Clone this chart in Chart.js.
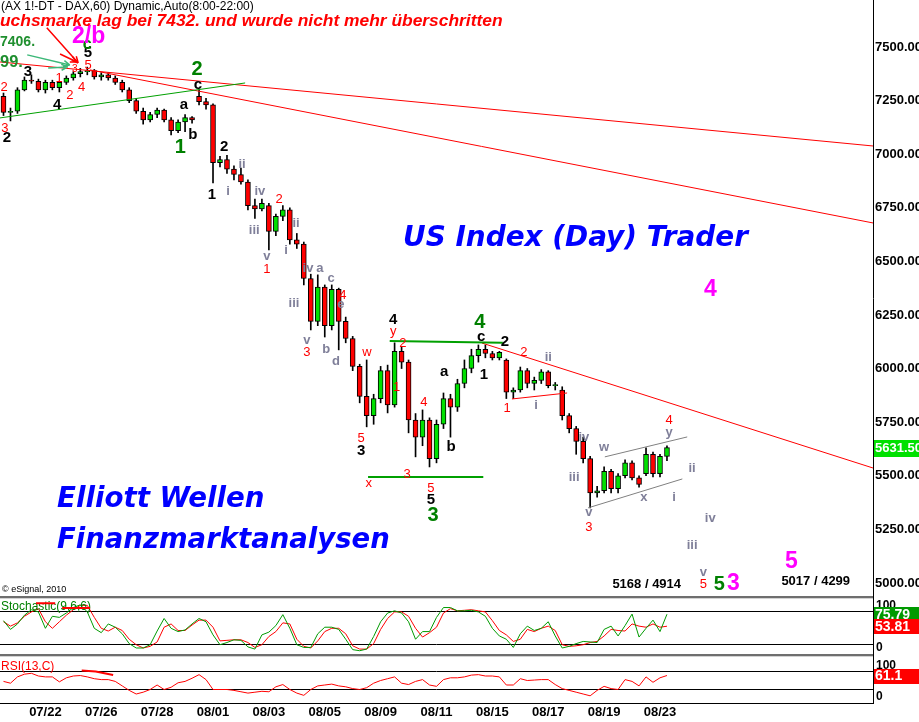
<!DOCTYPE html>
<html>
<head>
<meta charset="utf-8">
<title>DAX 60 - Elliott</title>
<script src="https://cdn.jsdelivr.net/npm/chart.js@4.4.1/dist/chart.umd.min.js"></script>
<style>
  body { margin: 0; background: #fff; }
  #wrap { position: relative; width: 919px; height: 722px; overflow: hidden; background: #fff; }
  #wrap canvas { position: absolute; left: 0; }
  .sep { position: absolute; left: 0; width: 873px; }
  .vline { position: absolute; left: 873px; width: 1px; background: #000; }
</style>
</head>
<body>
<div id="wrap">
  <canvas id="priceChart" width="919" height="596" style="top:0"></canvas>
  <div class="sep" style="top:596px;height:2px;background:#6e6e6e"></div>
  <div class="sep" style="top:598px;height:1px;background:#d2d2d2"></div>
  <div class="vline" style="top:596px;height:4px"></div>
  <canvas id="stochChart" width="919" height="54" style="top:600px"></canvas>
  <div class="sep" style="top:654px;height:2px;background:#6e6e6e"></div>
  <div class="sep" style="top:656px;height:1px;background:#d2d2d2"></div>
  <div class="vline" style="top:654px;height:4px"></div>
  <canvas id="rsiChart" width="919" height="64" style="top:658px"></canvas>
</div>
<script>
// ---- data ----
const dayTicks = ['07/22','07/26','07/28','08/01','08/03','08/05','08/09','08/11','08/15','08/17','08/19','08/23'];
const priceTicks = [5000,5250,5500,5750,6000,6250,6500,6750,7000,7250,7500];

const opens = [7270,7195,7200,7300,7345,7340,7300,7335,7310,7335,
  7355,7375,7385,7390,7360,7370,7355,7335,7300,7250,
  7200,7160,7185,7205,7160,7110,7150,7170,7270,7245,
  7230,6960,6975,6930,6905,6870,6760,6745,6760,6640,
  6710,6740,6600,6580,6420,6220,6380,6200,6370,6220,
  6140,6010,5870,5780,5860,5990,5830,6080,6030,5760,
  5680,5760,5580,5740,5860,5820,5930,6000,6060,6090,
  6070,6050,6040,5890,5900,5990,5930,5945,5985,5920,
  5900,5780,5720,5660,5580,5420,5430,5520,5440,5500,
  5560,5490,5510,5600,5510,5590];
const highs = [7285,7215,7310,7360,7370,7350,7345,7345,7340,7365,
  7385,7400,7406,7395,7380,7380,7365,7345,7310,7260,
  7215,7195,7215,7210,7170,7160,7185,7175,7300,7260,
  7235,6990,6995,6945,6935,6880,6790,6790,6770,6720,
  6760,6750,6630,6590,6440,6437,6390,6390,6375,6240,
  6150,6020,6040,5880,6010,6016,6120,6100,6040,5790,
  5807,5770,5760,5886,5880,5950,6040,6090,6110,6110,
  6080,6080,6045,5910,6007,6000,5960,5995,5990,5935,
  5915,5790,5730,5680,5590,5450,5541,5530,5510,5574,
  5570,5500,5630,5610,5600,5640];
const lows = [7180,7155,7190,7295,7330,7290,7285,7300,7290,7325,
  7345,7360,7370,7350,7345,7345,7325,7290,7240,7190,
  7140,7150,7170,7150,7090,7100,7105,7145,7230,7210,
  6866,6940,6910,6880,6860,6740,6700,6735,6553,6620,
  6690,6580,6560,6390,6180,6200,6147,6180,6087,6120,
  5990,5840,5728,5740,5840,5793,5820,6000,5700,5588,
  5640,5541,5560,5720,5680,5800,5910,5980,6030,6050,
  6040,6040,5860,5860,5890,5910,5900,5930,5910,5900,
  5760,5700,5600,5560,5350,5400,5420,5420,5420,5490,
  5480,5447,5500,5494,5495,5570];
const closes = [7195,7200,7300,7345,7340,7300,7335,7310,7335,7355,
  7375,7385,7390,7360,7370,7355,7335,7300,7250,7200,
  7160,7185,7205,7160,7110,7150,7170,7160,7245,7230,
  6960,6975,6930,6905,6870,6760,6745,6770,6640,6710,
  6740,6600,6580,6420,6220,6380,6200,6370,6220,6140,
  6010,5870,5780,5860,5990,5830,6080,6030,5760,5680,
  5760,5580,5740,5860,5820,5930,6000,6060,6090,6070,
  6050,6075,5890,5900,5990,5930,5945,5985,5920,5925,
  5780,5720,5660,5580,5420,5430,5520,5440,5500,5560,
  5490,5460,5600,5510,5590,5631.5];

const stochK = [64,48,58,74,84,80,50,72,70,78,
  88,93,80,50,42,58,52,40,22,14,
  14,20,45,68,50,44,47,58,68,62,
  38,20,24,29,28,16,12,38,43,55,
  75,50,20,15,15,40,52,52,48,30,
  11,9,12,35,62,78,82,78,62,30,
  44,44,70,88,88,82,82,83,80,72,
  50,36,30,15,40,54,46,50,62,36,
  14,17,22,26,25,24,48,54,36,55,
  76,34,50,65,44,75.79];
const stochD = [62,54,60,72,80,86,62,50,62,74,
  84,92,92,70,50,45,52,46,30,20,
  14,17,25,52,58,46,46,56,65,65,
  52,27,28,29,29,24,15,20,35,44,
  60,58,30,17,14,27,44,50,50,40,
  18,12,12,22,48,68,80,80,72,50,
  34,42,52,78,86,82,83,84,82,80,
  64,46,38,26,30,48,44,50,54,46,
  20,17,18,20,24,26,36,48,46,45,
  58,54,52,58,52,53.81];
const rsi = [48,44,58,64,66,60,58,58,47,56,
  60,61,58,54,52,52,48,38,28,20,
  24,30,40,30,35,45,48,55,63,52,
  30,30,30,28,25,22,24,26,25,36,
  41,30,22,17,30,38,40,42,38,36,
  32,30,34,44,50,54,58,44,41,48,
  52,40,37,52,56,56,58,62,63,60,
  60,58,40,40,54,50,51,52,52,41,
  32,28,24,20,16,28,37,32,30,52,
  48,38,58,46,56,61.1];
const stochLevels = [20, 80];
const rsiLevels = [30, 70];

// ---- drawn-in annotations, in (bar, price) ----
// trend lines: bar1, price1, bar2, price2, colour, width
const trendLines = [
  [-0.5, 7430, 124.5, 7038, '#ff0000', 1],
  [12.4, 7393, 124.5, 6679, '#ff0000', 1],
  [68.5, 6119, 124.5, 5536, '#ff0000', 1],
  [72.8, 5858, 80.7, 5886, '#ff0000', 1],
  [-0.5, 7169, 34.6, 7332, '#00a000', 1],
  [55.3, 6129, 71.5, 6120, '#00a000', 2],
  [52.2, 5494, 68.7, 5494, '#00a000', 2],
  [86.1, 5588, 97.9, 5681, '#808080', 1],
  [83.7, 5350, 97.2, 5485, '#808080', 1]
];
const arrows = [
  [6.2, 7589, 10.7, 7425, '#ff0000'],
  [8.1, 7467, 10.5, 7430, '#ff0000'],
  [3.4, 7463, 9.5, 7416, '#3cb878'],
  [6.4, 7402, 9.2, 7407, '#3cb878']
];
// wave labels: text, bar, price, style
const waveLabels = [
  ['2',0.1,7309,'r'], ['3',0.2,7122,'r'], ['2',0.5,7076,'k'], ['3',3.5,7383,'k'],
  ['4',7.7,7229,'k'], ['1',7.95,7355,'r'], ['2',9.5,7276,'r'], ['3',10.2,7397,'rs'],
  ['4',11.2,7313,'r'], ['5',12.1,7416,'r'], ['5',12.1,7472,'k'], ['c',12.0,7509,'gc'],
  ['2/b',12.2,7550,'m'],
  ['2',27.7,7393,'g'], ['c',27.85,7323,'k'], ['a',25.85,7229,'k'], ['b',27.1,7090,'k'],
  ['1',25.3,7029,'g'], ['2',31.6,7034,'k'], ['1',29.85,6810,'k'],
  ['ii',34.15,6954,'s'], ['i',32.15,6828,'s'], ['iv',36.7,6824,'s'], ['iii',35.9,6646,'s'],
  ['2',39.45,6791,'r'], ['v',37.7,6521,'s'], ['1',37.7,6460,'r'],
  ['ii',41.9,6679,'s'], ['i',40.45,6553,'s'], ['iv',43.6,6469,'s'], ['iii',41.6,6306,'s'],
  ['v',43.45,6133,'s'], ['3',43.45,6077,'r'],
  ['a',45.3,6469,'s'], ['c',46.9,6418,'s'], ['4',48.6,6339,'r'], ['e',48.3,6297,'s'],
  ['b',46.2,6087,'s'], ['d',47.6,6031,'s'],
  ['w',52.05,6077,'r'], ['4',55.8,6227,'k'], ['y',55.8,6171,'r'], ['2',57.2,6115,'r'],
  ['1',56.3,5910,'r'], ['5',51.2,5676,'r'], ['3',51.2,5616,'k'], ['4',60.2,5844,'r'],
  ['3',57.8,5508,'r'], ['x',52.3,5462,'r'], ['5',61.2,5443,'r'], ['5',61.2,5387,'k'],
  ['3',61.5,5313,'g'], ['a',63.1,5984,'k'], ['b',64.1,5634,'k'],
  ['4',68.2,6217,'g'], ['c',68.4,6147,'k'], ['1',68.8,5970,'k'], ['2',71.8,6124,'k'],
  ['2',74.5,6077,'r'], ['ii',78,6054,'s'], ['1',72.1,5812,'r'], ['i',76.25,5830,'s'],
  ['iv',83.1,5681,'s'], ['iii',81.7,5494,'s'], ['w',86,5630,'s'],
  ['4',95.3,5756,'r'], ['y',95.3,5704,'s'], ['ii',98.6,5536,'s'], ['i',96,5401,'s'],
  ['x',91.7,5397,'s'], ['v',83.8,5331,'s'], ['3',83.8,5261,'r'],
  ['iv',101.2,5299,'s'], ['iii',98.6,5177,'s'], ['v',100.2,5051,'s'], ['5',100.2,4995,'r'],
  ['5',102.5,4995,'g'], ['3',104.5,4995,'m'], ['5',112.8,5098,'m'], ['4',101.2,6367,'m'],
  ['5168 / 4914',92.1,4991,'n'], ['5017 / 4299',116.3,5005,'n']
];

const FONT = "Arial, 'Liberation Sans', sans-serif";
const WIDE = "'DejaVu Sans', Verdana, sans-serif";
const labelStyles = {
  r:  ['#ff0000', 'normal 13px ' + FONT],
  rs: ['#ff0000', 'normal 10px ' + FONT],
  k:  ['#000000', 'bold 15px ' + FONT],
  g:  ['#008000', 'bold 20px ' + FONT],
  gc: ['#008000', 'bold 16px ' + FONT],
  s:  ['#7f7f99', 'bold 13px ' + FONT],
  m:  ['#ff00ff', 'bold 23px ' + FONT],
  n:  ['#000000', 'bold 13px ' + FONT]
};

// category slots: 4 bars per session day, the chart runs on past the last bar
const slotCount = 125, firstTickSlot = 6, slotsPerTick = 8;
const categories = Array.from({length: slotCount}, (_, i) => {
  const k = (i - firstTickSlot) / slotsPerTick;
  return Number.isInteger(k) && k >= 0 && k < dayTicks.length ? dayTicks[k] : '';
});

const bodies = opens.map((o, i) => [Math.min(o, closes[i]), Math.max(o, closes[i])]);
const wicks = lows.map((l, i) => [l, highs[i]]);
const bodyColors = opens.map((o, i) => closes[i] >= o ? '#00e000' : '#ff0000');

function fitText(ctx, text, x, y, width, prefix, family) {
  ctx.font = prefix + ' 20px ' + family;
  const size = 20 * width / ctx.measureText(text).width;
  ctx.font = prefix + ' ' + size.toFixed(1) + 'px ' + family;
  ctx.fillText(text, x, y);
}

function xScale(show) {
  return {
    type: 'category', offset: true, display: show,
    grid: {display: false, drawTicks: false},
    border: {display: show, color: '#000', width: 1},
    ticks: {autoSkip: false, maxRotation: 0, minRotation: 0, padding: 2, color: '#000',
            font: {family: FONT, size: 13, weight: 'bold'}},
    afterFit: s => { if (show) s.height = 19; s.paddingLeft = 0; s.paddingRight = 0; }
  };
}

function levelScale(min, max, levels) {
  return {
    position: 'right', min: min, max: max,
    grid: {display: true, color: '#000', lineWidth: 1, drawTicks: false},
    border: {display: true, color: '#000', width: 1},
    afterBuildTicks: s => { s.ticks = levels.map(v => ({value: v})); },
    ticks: {display: false},
    afterFit: s => { s.width = 46; s.paddingTop = 0; s.paddingBottom = 0; }
  };
}

function valueBox(ctx, area, scale, value, txt, bg) {
  const y = scale.getPixelForValue(value);
  ctx.fillStyle = bg;
  ctx.fillRect(area.right + 1, Math.round(y) - 7, 46, 15);
  ctx.fillStyle = '#fff';
  ctx.font = 'bold 14px ' + FONT;
  ctx.textAlign = 'left';
  ctx.textBaseline = 'middle';
  ctx.fillText(txt, area.right + 2, y + 1);
}

const priceOverlay = {
  id: 'priceOverlay',
  afterDraw(chart) {
    const {ctx, chartArea: a, scales: {x, y}} = chart;
    const px = i => x.getPixelForValue(i);
    const py = p => y.getPixelForValue(p);
    ctx.save();
    ctx.beginPath();
    ctx.rect(a.left, a.top, a.right - a.left, a.bottom - a.top);
    ctx.clip();

    trendLines.forEach(([i1, p1, i2, p2, c, w]) => {
      ctx.strokeStyle = c; ctx.lineWidth = w;
      ctx.beginPath(); ctx.moveTo(px(i1), py(p1)); ctx.lineTo(px(i2), py(p2)); ctx.stroke();
    });
    arrows.forEach(([i1, p1, i2, p2, c]) => {
      const x1 = px(i1), y1 = py(p1), x2 = px(i2), y2 = py(p2);
      const ang = Math.atan2(y2 - y1, x2 - x1);
      ctx.strokeStyle = c; ctx.lineWidth = 1.5;
      ctx.beginPath(); ctx.moveTo(x1, y1); ctx.lineTo(x2, y2);
      ctx.moveTo(x2, y2); ctx.lineTo(x2 - 7 * Math.cos(ang - 0.45), y2 - 7 * Math.sin(ang - 0.45));
      ctx.moveTo(x2, y2); ctx.lineTo(x2 - 7 * Math.cos(ang + 0.45), y2 - 7 * Math.sin(ang + 0.45));
      ctx.stroke();
    });

    ctx.textAlign = 'center'; ctx.textBaseline = 'middle';
    waveLabels.forEach(([t, i, p, st]) => {
      const [c, f] = labelStyles[st];
      ctx.fillStyle = c; ctx.font = f;
      ctx.fillText(t, px(i), py(p));
    });

    // header and captions
    ctx.textAlign = 'left';
    ctx.fillStyle = '#000';
    fitText(ctx, '(AX 1!-DT - DAX,60) Dynamic,Auto(8:00-22:00)', 1, 7, 252, 'normal', FONT);
    ctx.fillStyle = '#ff0000';
    fitText(ctx, 'uchsmarke lag bei 7432. und wurde nicht mehr überschritten', 0, 21, 503, 'italic bold', FONT);
    ctx.fillStyle = '#1f8f2f';
    fitText(ctx, '7406.', 0, 42, 35, 'bold', FONT);
    fitText(ctx, '99.', 0, 62, 23, 'bold', FONT);
    ctx.fillStyle = '#0000ff';
    fitText(ctx, 'US Index (Day) Trader', 403, 239, 345, 'italic bold', WIDE);
    fitText(ctx, 'Elliott Wellen', 57, 500, 208, 'italic bold', WIDE);
    fitText(ctx, 'Finanzmarktanalysen', 57, 541, 333, 'italic bold', WIDE);
    ctx.fillStyle = '#000';
    ctx.font = '9px ' + FONT;
    ctx.fillText('\u00a9 eSignal, 2010', 2, 590);
    ctx.restore();

    // last price flag on the axis
    ctx.save();
    const yl = py(closes[closes.length - 1]);
    ctx.fillStyle = '#00e000';
    ctx.fillRect(a.right + 1, Math.round(yl) - 8, 46, 17);
    ctx.fillStyle = '#fff';
    ctx.font = 'bold 13px ' + FONT;
    ctx.textBaseline = 'middle';
    ctx.fillText(closes[closes.length - 1].toFixed(2), a.right + 2, yl + 1);
    ctx.restore();
  }
};

const stochOverlay = {
  id: 'stochOverlay',
  afterDraw(chart) {
    const {ctx, chartArea: a, scales: {x, y}} = chart;
    ctx.save();
    ctx.fillStyle = '#008000';
    ctx.font = '12px ' + FONT;
    ctx.textAlign = 'left'; ctx.textBaseline = 'middle';
    ctx.fillText('Stochastic(9,6,6)', 1, 7);
    ctx.strokeStyle = '#ff0000'; ctx.lineWidth = 2;
    ctx.beginPath();
    ctx.moveTo(x.getPixelForValue(4.65), y.getPixelForValue(96)); ctx.lineTo(x.getPixelForValue(7.4), y.getPixelForValue(96));
    ctx.moveTo(x.getPixelForValue(8.4), y.getPixelForValue(87)); ctx.lineTo(x.getPixelForValue(12.4), y.getPixelForValue(87));
    ctx.stroke();
    ctx.fillStyle = '#000';
    ctx.font = 'bold 12px ' + FONT;
    ctx.textBaseline = 'top'; ctx.fillText('100', a.right + 3, a.top);
    ctx.textBaseline = 'bottom'; ctx.fillText('0', a.right + 3, a.bottom);
    const n = stochK.length - 1;
    valueBox(ctx, a, y, stochK[n], stochK[n].toFixed(2), '#009a00');
    valueBox(ctx, a, y, stochD[n], stochD[n].toFixed(2), '#ff0000');
    ctx.restore();
  }
};

const rsiOverlay = {
  id: 'rsiOverlay',
  afterDraw(chart) {
    const {ctx, chartArea: a, scales: {x, y}} = chart;
    ctx.save();
    ctx.fillStyle = '#ff0000';
    ctx.font = '12px ' + FONT;
    ctx.textAlign = 'left'; ctx.textBaseline = 'middle';
    ctx.fillText('RSI(13,C)', 1, 9);
    ctx.strokeStyle = '#ff0000'; ctx.lineWidth = 2;
    ctx.beginPath();
    ctx.moveTo(x.getPixelForValue(11.2), y.getPixelForValue(72));
    ctx.lineTo(x.getPixelForValue(13.2), y.getPixelForValue(70));
    ctx.lineTo(x.getPixelForValue(15.7), y.getPixelForValue(62));
    ctx.stroke();
    ctx.fillStyle = '#000';
    ctx.font = 'bold 12px ' + FONT;
    ctx.textBaseline = 'top'; ctx.fillText('100', a.right + 3, a.top + 2);
    ctx.textBaseline = 'bottom'; ctx.fillText('0', a.right + 3, a.bottom);
    const n = rsi.length - 1;
    valueBox(ctx, a, y, rsi[n], rsi[n].toFixed(1), '#ff0000');
    ctx.restore();
  }
};

const common = {
  responsive: false, animation: false, devicePixelRatio: 1, events: [],
  layout: {padding: 0, autoPadding: false},
  plugins: {legend: {display: false}, tooltip: {enabled: false}}
};

new Chart(document.getElementById('priceChart'), {
  type: 'bar',
  data: {
    labels: categories,
    datasets: [
      {data: bodies, backgroundColor: bodyColors, borderColor: '#000', borderWidth: 1,
       borderSkipped: false, barThickness: 5, grouped: false},
      {data: wicks, backgroundColor: '#000', borderWidth: 0, barThickness: 1, grouped: false}
    ]
  },
  options: Object.assign({}, common, {
    scales: {
      x: xScale(false),
      y: {
        position: 'right', min: 4939, max: 7719,
        grid: {display: false, drawTicks: false},
        border: {display: true, color: '#000', width: 1},
        afterBuildTicks: s => { s.ticks = priceTicks.map(v => ({value: v})); },
        afterFit: s => { s.width = 46; s.paddingTop = 0; s.paddingBottom = 0; },
        ticks: {color: '#000', padding: 2, font: {family: FONT, size: 13, weight: 'bold'},
                callback: v => Number(v).toFixed(2)}
      }
    }
  }),
  plugins: [priceOverlay]
});

new Chart(document.getElementById('stochChart'), {
  type: 'line',
  data: {
    labels: categories,
    datasets: [
      {data: stochK, borderColor: '#009a00', borderWidth: 1, pointRadius: 0, pointHoverRadius: 0, tension: 0},
      {data: stochD, borderColor: '#ff0000', borderWidth: 1, pointRadius: 0, pointHoverRadius: 0, tension: 0}
    ]
  },
  options: Object.assign({}, common, {
    scales: {x: xScale(false), y: levelScale(3, 101.8, stochLevels)}
  }),
  plugins: [stochOverlay]
});

new Chart(document.getElementById('rsiChart'), {
  type: 'line',
  data: {
    labels: categories,
    datasets: [
      {data: rsi, borderColor: '#ff0000', borderWidth: 1, pointRadius: 0, pointHoverRadius: 0, tension: 0}
    ]
  },
  options: Object.assign({}, common, {
    scales: {x: xScale(true), y: levelScale(0, 100, rsiLevels)}
  }),
  plugins: [rsiOverlay]
});
</script>
</body>
</html>
